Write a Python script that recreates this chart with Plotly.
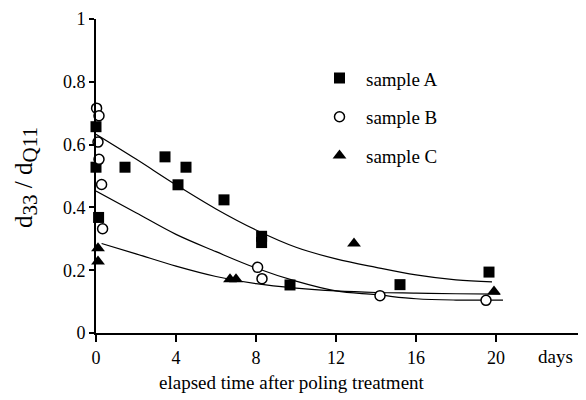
import plotly.graph_objects as go

# measured points
a_x = [0, 0, 0.13, 1.45, 3.45, 4.1, 4.5, 6.4, 8.28, 8.28, 9.7, 15.2, 19.65]
a_y = [0.657, 0.528, 0.368, 0.528, 0.561, 0.472, 0.528, 0.424, 0.308, 0.288, 0.153, 0.154, 0.194]

b_x = [0.03, 0.15, 0.1, 0.15, 0.28, 0.33, 8.08, 8.3, 14.2, 19.5]
b_y = [0.716, 0.692, 0.608, 0.553, 0.473, 0.332, 0.209, 0.173, 0.119, 0.104]

c_x = [0.1, 0.1, 6.7, 7.0, 12.9, 19.9]
c_y = [0.27, 0.228, 0.171, 0.171, 0.285, 0.132]

# fitted curves
fit_a_x = [0, 2, 4, 6, 8, 10, 12, 14, 16, 18, 19.8]
fit_a_y = [0.633, 0.554, 0.472, 0.395, 0.328, 0.273, 0.236, 0.209, 0.185, 0.169, 0.163]
fit_b_x = [0, 2, 4, 6, 8, 10, 12, 14, 16, 18, 20.35]
fit_b_y = [0.452, 0.383, 0.314, 0.259, 0.207, 0.165, 0.134, 0.122, 0.109, 0.105, 0.105]
fit_c_x = [0.28, 2, 4, 6, 8, 10, 12, 14, 16, 18, 20.2]
fit_c_y = [0.285, 0.252, 0.213, 0.18, 0.157, 0.143, 0.134, 0.129, 0.127, 0.125, 0.124]

x_ticks = [0, 4, 8, 12, 16, 20]
y_ticks = [0, 0.2, 0.4, 0.6, 0.8, 1]
y_tick_text = ["0", "0.2", "0.4", "0.6", "0.8", "1"]

FONT = "'Liberation Serif', 'Times New Roman', Times, 'DejaVu Serif', serif"

# the page body adds an 8 px offset; plot area should span x 96..585, y 13..333 in the window
OFF = 8
L, R, T, B = 96 - OFF, 1, 13 - OFF, 67
W, H = 586 - OFF, 400 - OFF
PW = W - L - R  # 489
PH = H - T - B  # 320


def px_x(p):
    return (p - 96) / PW


def px_y(p):
    return (333 - p) / PH


fig = go.Figure()
for fx, fy in [(fit_a_x, fit_a_y), (fit_b_x, fit_b_y), (fit_c_x, fit_c_y)]:
    fig.add_trace(go.Scatter(x=fx, y=fy, mode="lines", line=dict(color="black", width=1.2, shape="spline"),
                             showlegend=False, hoverinfo="skip", cliponaxis=False))

fig.add_trace(go.Scatter(x=a_x, y=a_y, mode="markers", name="sample A", legendgroup="a",
                         marker=dict(symbol="square", size=11, color="black"), cliponaxis=False))
fig.add_trace(go.Scatter(x=b_x, y=b_y, mode="markers", name="sample B", legendgroup="b",
                         marker=dict(symbol="circle", size=10, color="white", line=dict(color="black", width=1.5)),
                         cliponaxis=False))
fig.add_trace(go.Scatter(x=c_x, y=c_y, mode="markers", name="sample C", legendgroup="c",
                         marker=dict(symbol="triangle-up", size=12, color="black"), cliponaxis=False))

fig.update_layout(
    width=W, height=H,
    margin=dict(l=L, r=R, t=T, b=B, pad=0),
    paper_bgcolor="white", plot_bgcolor="white",
    font=dict(family=FONT, size=18, color="black"),
    showlegend=True,
    legend=dict(x=px_x(313), y=px_y(54), xanchor="left", yanchor="top",
                bgcolor="rgba(0,0,0,0)", font=dict(family=FONT, size=19),
                tracegroupgap=11, itemwidth=43),
    xaxis=dict(range=[0, 24.45], tickmode="array", tickvals=x_ticks, ticktext=[str(t) for t in x_ticks],
               showline=True, linecolor="black", linewidth=2, ticks="outside", ticklen=7, tickwidth=2,
               tickcolor="black", showgrid=False, zeroline=False, tickfont=dict(family=FONT, size=18),
               ticklabeloverflow="allow"),
    yaxis=dict(range=[0, 1], tickmode="array", tickvals=y_ticks, ticktext=y_tick_text,
               showline=True, linecolor="black", linewidth=2, ticks="outside", ticklen=5, tickwidth=2,
               tickcolor="black", showgrid=False, zeroline=False, tickfont=dict(family=FONT, size=18),
               ticklabelstandoff=0, ticklabeloverflow="allow"),
    annotations=[
        dict(text="d<sub><span style='font-size:21px'>33</span></sub> / d<sub><span style='font-size:21px'>Q11</span></sub>",
             xref="paper", yref="paper",
             x=px_x(26), y=px_y(175), xanchor="center", yanchor="middle", textangle=-90,
             showarrow=False, font=dict(family=FONT, size=25)),
        dict(text="elapsed time after poling treatment", xref="paper", yref="paper",
             x=px_x(292), y=px_y(383), xanchor="center", yanchor="middle",
             showarrow=False, font=dict(family=FONT, size=19)),
        dict(text="days", xref="paper", yref="paper",
             x=px_x(555), y=px_y(357), xanchor="center", yanchor="middle",
             showarrow=False, font=dict(family=FONT, size=19)),
    ],
)

fig.write_html("out.html")
